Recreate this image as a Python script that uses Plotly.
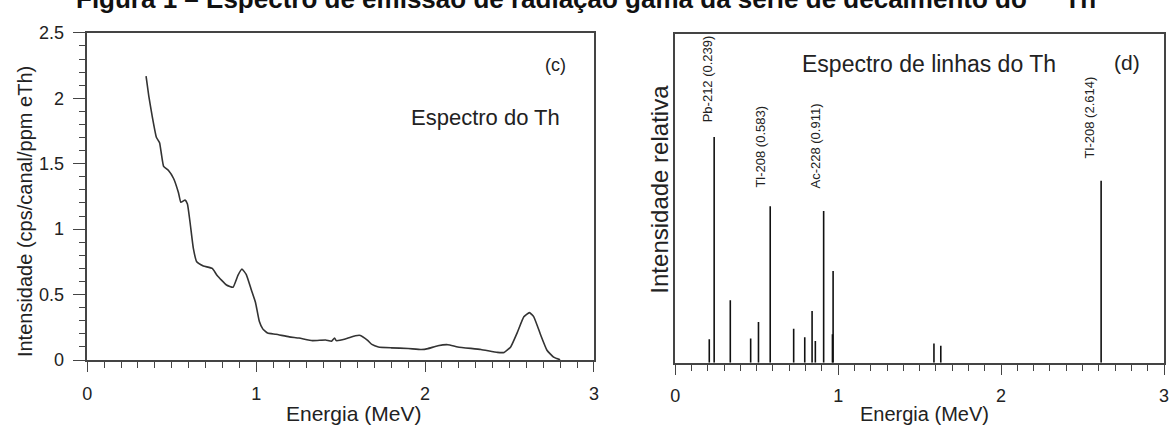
import plotly.graph_objects as go

W, H = 1170, 432

# ---------------- data ----------------
# (c) Th spectrum: energy (MeV) vs intensity (cps/canal/ppm eTh)
spec_energy = [0.348, 0.364, 0.383, 0.409, 0.428, 0.438, 0.452, 0.481, 0.511, 0.540,
               0.554, 0.579, 0.593, 0.609, 0.628, 0.648, 0.687, 0.740, 0.769, 0.824,
               0.863, 0.892, 0.916, 0.941, 0.971, 0.996, 1.019, 1.039, 1.068, 1.117,
               1.196, 1.254, 1.333, 1.411, 1.446, 1.464, 1.474, 1.528, 1.587, 1.617,
               1.660, 1.685, 1.724, 1.800, 1.900, 1.979, 2.017, 2.076, 2.135, 2.194,
               2.331, 2.429, 2.468, 2.507, 2.546, 2.585, 2.618, 2.644, 2.683, 2.722,
               2.761, 2.800]
spec_intensity = [2.170, 2.019, 1.873, 1.703, 1.660, 1.582, 1.480, 1.448, 1.387, 1.278,
                  1.205, 1.222, 1.193, 1.047, 0.853, 0.751, 0.719, 0.700, 0.646, 0.573,
                  0.556, 0.646, 0.695, 0.654, 0.537, 0.440, 0.294, 0.238, 0.206, 0.197,
                  0.177, 0.168, 0.148, 0.153, 0.144, 0.168, 0.148, 0.160, 0.185, 0.188,
                  0.150, 0.119, 0.100, 0.093, 0.088, 0.080, 0.087, 0.109, 0.117, 0.100,
                  0.080, 0.058, 0.058, 0.100, 0.209, 0.330, 0.362, 0.330, 0.197, 0.075,
                  0.022, 0.002]

# (d) Th line spectrum: energy (MeV) vs relative intensity
line_energy = [0.209, 0.239, 0.338, 0.463, 0.511, 0.583, 0.727, 0.795, 0.840, 0.860,
               0.911, 0.965, 0.969, 1.588, 1.630, 2.614]
line_intensity = [10.5, 100.0, 27.7, 10.8, 18.1, 69.3, 15.1, 11.3, 22.9, 9.7,
                  67.2, 12.7, 40.6, 8.6, 7.6, 80.6]

label_text = ["Pb-212 (0.239)", "Tl-208 (0.583)", "Ac-228 (0.911)", "Tl-208 (2.614)"]
label_energy = [0.239, 0.583, 0.911, 2.614]

left_yticks = [0, 0.5, 1, 1.5, 2, 2.5]
left_yticklabels = ["0", "0.5", "1", "1.5", "2", "2.5"]
xticks = [0, 1, 2, 3]
xticklabels = ["0", "1", "2", "3"]

title_text = "Figura 1 – Espectro de emissão de radiação gama da série de decaimento do <sup>232</sup>Th"

# ---------------- helpers ----------------
def px(x):
    return x / W

def py(y):
    return (H - y) / H

FONT = "Arial, Liberation Sans, sans-serif"
AX = "#444444"

fig = go.Figure()

fig.add_trace(go.Scatter(
    x=spec_energy, y=spec_intensity, mode="lines",
    line=dict(color="#333333", width=1.6, shape="spline", smoothing=0.4),
    xaxis="x", yaxis="y", showlegend=False, hoverinfo="skip"))

lx, ly = [], []
for e, v in zip(line_energy, line_intensity):
    lx += [e, e, None]
    ly += [0, v, None]
fig.add_trace(go.Scatter(
    x=lx, y=ly, mode="lines", line=dict(color="#111111", width=1.6),
    xaxis="x2", yaxis="y2", showlegend=False, hoverinfo="skip"))

def xaxis_style(standoff):
    return dict(
        showline=True, linecolor=AX, linewidth=1.5, mirror=True,
        showgrid=False, zeroline=False, ticks="outside", ticklen=10,
        tickwidth=1.3, tickcolor=AX, tickvals=xticks, ticktext=xticklabels,
        ticklabelstandoff=standoff,
        tickfont=dict(family=FONT, size=18, color="#222222"),
        minor=dict(dtick=0.1, ticks="outside", ticklen=6, tickwidth=1.2, tickcolor=AX),
        range=[0, 3])

fig.update_layout(
    width=W, height=H, margin=dict(l=0, r=0, t=0, b=0),
    paper_bgcolor="white", plot_bgcolor="white",
    font=dict(family=FONT, color="#222222"),
    xaxis=dict(domain=[px(83), px(594)], anchor="y", **xaxis_style(7)),
    yaxis=dict(domain=[py(367), py(24)], anchor="x", range=[0, 2.5],
               showline=True, linecolor=AX, linewidth=1.5, mirror=True,
               showgrid=False, zeroline=False, ticks="outside", ticklen=13,
               tickwidth=1.3, tickcolor=AX, tickvals=left_yticks,
               ticktext=left_yticklabels, ticklabelstandoff=5,
               tickfont=dict(family=FONT, size=18, color="#222222"),
               minor=dict(dtick=0.1, ticks="outside", ticklen=7, tickwidth=1.2,
                          tickcolor=AX)),
    xaxis2=dict(domain=[px(676), px(1169)], anchor="y2", **xaxis_style(6)),
    yaxis2=dict(domain=[py(370), py(25)], anchor="x2", range=[0, 145.6],
                showline=True, linecolor=AX, linewidth=1.5, mirror=True,
                showgrid=False, zeroline=False, ticks="", showticklabels=False),
)

ann = []
# title (cut at top as in the reference)
ann.append(dict(text="<b>" + title_text + "</b>", x=px(586), y=py(-13),
                xref="paper", yref="paper", xanchor="center", yanchor="middle",
                showarrow=False, font=dict(family=FONT, size=26, color="#111111")))
# axis titles
ann.append(dict(text="Intensidade (cps/canal/ppm eTh)", x=px(20), y=py(211),
                xref="paper", yref="paper", xanchor="center", yanchor="middle",
                textangle=-90, showarrow=False, font=dict(family=FONT, size=20)))
ann.append(dict(text="Energia (MeV)", x=px(352), y=py(423),
                xref="paper", yref="paper", xanchor="center", yanchor="middle",
                showarrow=False, font=dict(family=FONT, size=21)))
ann.append(dict(text="Intensidade relativa", x=px(660), y=py(188),
                xref="paper", yref="paper", xanchor="center", yanchor="middle",
                textangle=-90, showarrow=False, font=dict(family=FONT, size=24)))
ann.append(dict(text="Energia (MeV)", x=px(927), y=py(424),
                xref="paper", yref="paper", xanchor="center", yanchor="middle",
                showarrow=False, font=dict(family=FONT, size=20)))
# panel texts
ann.append(dict(text="(c)", x=px(555), y=py(58), xref="paper", yref="paper",
                xanchor="center", yanchor="middle", showarrow=False,
                font=dict(family=FONT, size=18)))
ann.append(dict(text="Espectro do Th", x=px(485), y=py(113), xref="paper", yref="paper",
                xanchor="center", yanchor="middle", showarrow=False,
                font=dict(family=FONT, size=22)))
ann.append(dict(text="(d)", x=px(1132), y=py(55), xref="paper", yref="paper",
                xanchor="center", yanchor="middle", showarrow=False,
                font=dict(family=FONT, size=21)))
ann.append(dict(text="Espectro de linhas do Th", x=px(932), y=py(57), xref="paper",
                yref="paper", xanchor="center", yanchor="middle", showarrow=False,
                font=dict(family=FONT, size=23)))
# line labels
label_yc = [72, 143, 143, 113]
label_shift = [-6.5, -10, -8.5, -11.5]
for t, e, yc, s in zip(label_text, label_energy, label_yc, label_shift):
    ann.append(dict(text=t, x=e, y=py(yc), xref="x2", yref="paper", xshift=s,
                    xanchor="center", yanchor="middle", textangle=-90,
                    showarrow=False, font=dict(family=FONT, size=13, color="#222222")))

fig.update_layout(annotations=ann)
fig.write_html("out.html")
